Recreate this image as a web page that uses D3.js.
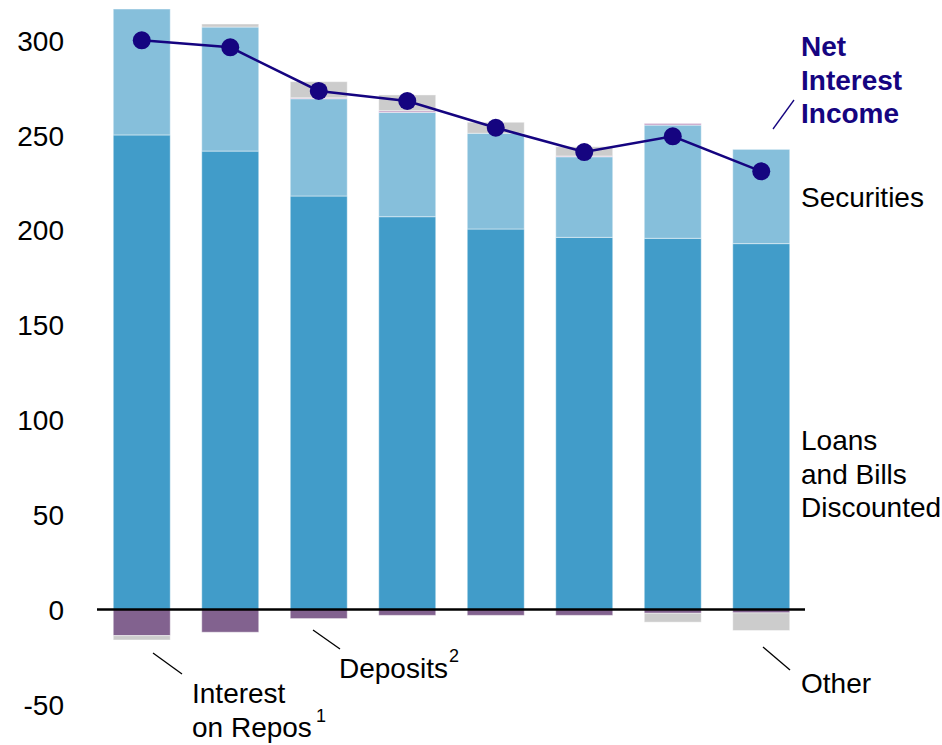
<!DOCTYPE html>
<html>
<head>
<meta charset="utf-8">
<script src="https://cdn.jsdelivr.net/npm/d3@7"></script>
<style>
  html, body { margin: 0; padding: 0; background: #fff; }
  svg { display: block; font-family: "Liberation Sans", Arial, sans-serif; }
</style>
</head>
<body>
<svg id="chart" width="942" height="745"></svg>
<script>
// Periods (no axis labels are drawn for them)
const periods = ["P1", "P2", "P3", "P4", "P5", "P6", "P7", "P8"];

// Components of net interest income
const loans      = [250.2, 241.7, 218.0, 207.1, 200.6, 196.2, 195.7, 192.9];
const securities = [66.4, 65.4, 51.3, 55.0, 50.5, 42.5, 59.7, 49.7];
const repos      = [0, 0, 0.5, 0.9, 0, 0.4, 0.9, 0];
const deposits   = [-13.8, -12.0, -4.8, -3.1, -3.1, -3.1, -2.0, -1.8];
const other      = [-2.3, 1.6, 8.5, 8.3, 5.8, 4.9, -4.7, -9.3];

// Net interest income line
const netInterestIncome = [300.1, 296.4, 273.4, 268.1, 254.0, 241.2, 249.5, 231.0];

// Y axis ticks
const yTicks = [-50, 0, 50, 100, 150, 200, 250, 300];

const keys = ["loans", "securities", "repos", "deposits", "other"];
const colors = {
  loans: "#419cc9",
  securities: "#86bfdb",
  repos: "#c49fc6",
  deposits: "#82628f",
  other: "#cccccc"
};

const rows = periods.map((p, i) => ({
  period: p,
  loans: loans[i],
  securities: securities[i],
  repos: repos[i],
  deposits: deposits[i],
  other: other[i]
}));

const svg = d3.select("#chart");
const FS = 28;

const x = d3.scaleBand()
  .domain(periods)
  .range([97.5, 805.5])
  .paddingInner(0.356)
  .paddingOuter(0.178);

const y = d3.scaleLinear()
  .domain([-50, 300])
  .range([704.3, 40.5]);

const series = d3.stack()
  .keys(keys)
  .offset(d3.stackOffsetDiverging)(rows);

// Stacked bars
svg.append("g")
  .selectAll("g")
  .data(series)
  .join("g")
    .attr("fill", d => colors[d.key])
  .selectAll("rect")
  .data(d => d)
  .join("rect")
    .attr("x", d => x(d.data.period))
    .attr("width", x.bandwidth())
    .attr("y", d => y(Math.max(d[0], d[1])))
    .attr("height", d => Math.abs(y(d[0]) - y(d[1])))
    .attr("stroke", "rgba(255,255,255,0.45)")
    .attr("stroke-width", 1);

// Zero line
svg.append("line")
  .attr("x1", 97).attr("x2", 805)
  .attr("y1", y(0)).attr("y2", y(0))
  .attr("stroke", "#000")
  .attr("stroke-width", 2.5);

// Y axis labels (plain hyphen for negatives)
const yAxis = d3.axisLeft(y)
  .tickValues(yTicks)
  .tickFormat(d => String(d))
  .tickSize(0)
  .tickPadding(0);
const gy = svg.append("g")
  .attr("transform", "translate(64,0)")
  .call(yAxis);
gy.select(".domain").remove();
gy.selectAll("text")
  .attr("font-size", FS)
  .attr("font-family", "Liberation Sans, Arial, sans-serif")
  .attr("fill", "#000")
  .attr("dy", "0.35em");

// Net interest income line and markers
const navy = "#150480";
const cx = (d, i) => x(periods[i]) + x.bandwidth() / 2;

svg.append("path")
  .datum(netInterestIncome)
  .attr("fill", "none")
  .attr("stroke", navy)
  .attr("stroke-width", 2.5)
  .attr("d", d3.line().x(cx).y(d => y(d)));

svg.append("g")
  .selectAll("circle")
  .data(netInterestIncome)
  .join("circle")
    .attr("cx", cx)
    .attr("cy", d => y(d))
    .attr("r", 9)
    .attr("fill", navy);

// Annotations
const ann = svg.append("g").attr("font-size", FS).attr("fill", "#000");

const nii = ann.append("text")
  .attr("x", 801).attr("font-weight", "bold").attr("fill", navy);
["Net", "Interest", "Income"].forEach((t, i) =>
  nii.append("tspan").attr("x", 801).attr("y", 56 + i * 33.5).text(t));

ann.append("text").attr("x", 801).attr("y", 207).text("Securities");

const loansLabel = ann.append("text");
["Loans", "and Bills", "Discounted"].forEach((t, i) =>
  loansLabel.append("tspan").attr("x", 801).attr("y", 450 + i * 33.5).text(t));

ann.append("text").attr("x", 801).attr("y", 693).text("Other");

const depLabel = ann.append("text").attr("x", 339).attr("y", 678);
depLabel.append("tspan").text("Deposits");
depLabel.append("tspan").attr("font-size", 18).attr("dx", 1).attr("dy", -16).text("2");

const repoLabel = ann.append("text");
repoLabel.append("tspan").attr("x", 192).attr("y", 703).text("Interest");
repoLabel.append("tspan").attr("x", 192).attr("y", 737).text("on Repos");
repoLabel.append("tspan").attr("font-size", 18).attr("dx", 4).attr("dy", -15).text("1");

// Leader lines
const leaders = [
  { x1: 773, y1: 129, x2: 794, y2: 100, c: navy },
  { x1: 763, y1: 647, x2: 790, y2: 670, c: "#000" },
  { x1: 313, y1: 630, x2: 340, y2: 649, c: "#000" },
  { x1: 153, y1: 653, x2: 182, y2: 674, c: "#000" }
];
svg.append("g")
  .selectAll("line")
  .data(leaders)
  .join("line")
    .attr("x1", d => d.x1).attr("y1", d => d.y1)
    .attr("x2", d => d.x2).attr("y2", d => d.y2)
    .attr("stroke", d => d.c)
    .attr("stroke-width", 1.3);
</script>
</body>
</html>
